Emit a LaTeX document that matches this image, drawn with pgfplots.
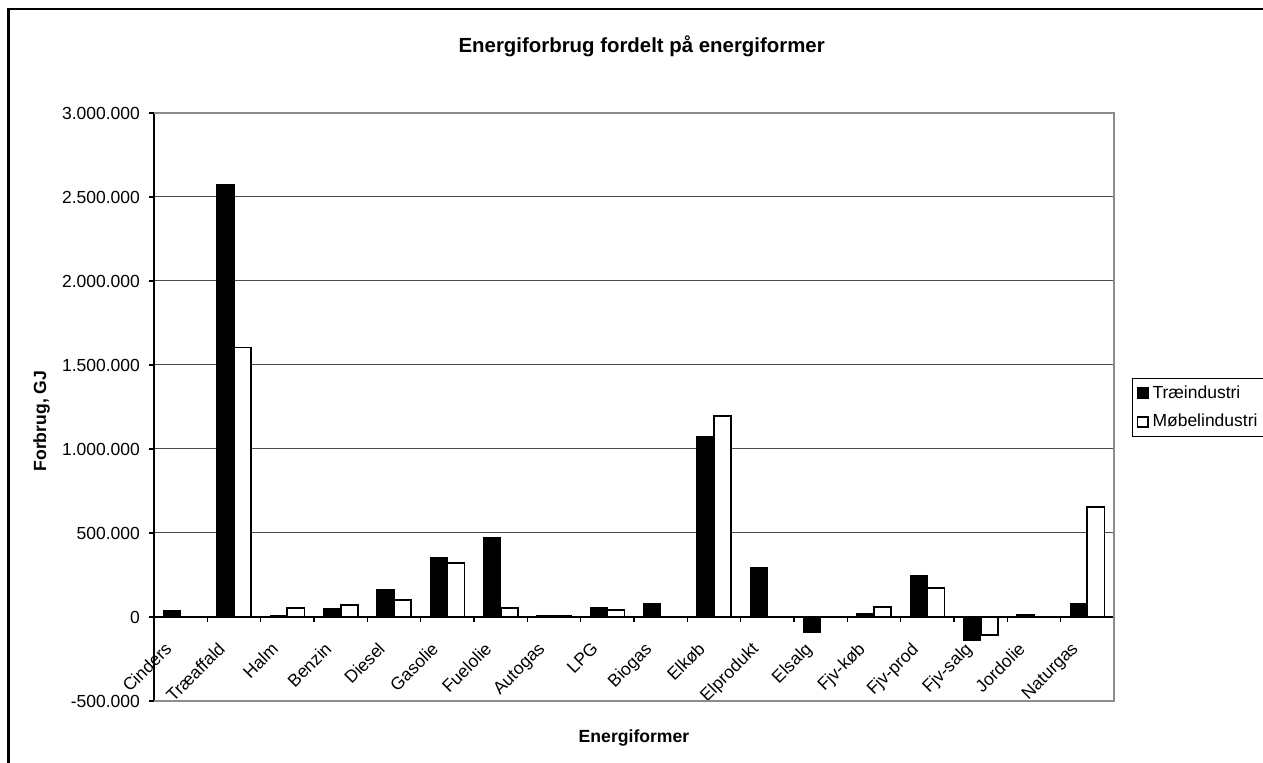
\documentclass[border=0pt]{standalone}
\usepackage{pgfplots}
\pgfplotsset{compat=1.18}
\usepackage{fontspec}
\setmainfont{Liberation Sans}

\newcommand{\tickfont}{\fontsize{8.75}{10.5}\selectfont}

\begin{document}
\begin{tikzpicture}
% page area and outer chart frame
\path[use as bounding box] (0pt,0pt) rectangle (631.5pt,381.5pt);
\draw[black, line width=1.3pt] (4.25pt,-10pt) -- (4.25pt,377pt) -- (645pt,377pt);

\begin{axis}[
  at={(77pt,31pt)}, anchor=south west,
  scale only axis, width=480pt, height=294pt,
  clip=false,
  axis x line*=middle, axis y line*=left,
  axis line style={black, line width=0.6pt},
  xmin=-0.5, xmax=17.5,
  ymin=-500000, ymax=3000000,
  scaled y ticks=false,
  ytick={-500000,0,500000,1000000,1500000,2000000,2500000,3000000},
  yticklabels={-500.000,0,500.000,1.000.000,1.500.000,2.000.000,2.500.000,3.000.000},
  yticklabel style={font=\tickfont, xshift=-1pt},
  xtick={0,...,17},
  xticklabels={Cinders,Træaffald,Halm,Benzin,Diesel,Gasolie,Fuelolie,Autogas,LPG,Biogas,Elkøb,Elprodukt,Elsalg,Fjv-køb,Fjv-prod,Fjv-salg,Jordolie,Naturgas},
  xticklabel style={font=\tickfont, xshift=-8.5pt, yshift=-8pt, rotate=45, anchor=north east, inner sep=1pt},
  x tick style={draw=none},
  minor xtick={-0.5,0.5,...,17.5},
  minor x tick style={draw=black, line width=0.6pt},
  y tick style={black, line width=0.6pt},
  tick align=outside,
  major tick length=2.5pt, minor tick length=2.5pt,
  ymajorgrids,
  grid style={black!70, line width=0.5pt},
  ybar=0pt, bar width=0.32,
  title={Energiforbrug fordelt på energiformer},
  every axis title/.style={font=\fontsize{10.2}{12}\selectfont\bfseries, at={(axis description cs:0.508,1.1037)}, anchor=base},
  xlabel={Energiformer},
  xlabel style={font=\fontsize{8.8}{10.5}\selectfont\bfseries, at={(axis description cs:0.5,-0.0714)}, anchor=base},
  ylabel={Forbrug, GJ},
  ylabel style={font=\fontsize{8.8}{10.5}\selectfont\bfseries, at={(axis description cs:-0.117,0.476)}, anchor=center},
  legend style={at={(axis description cs:1.01875,0.5493)}, anchor=north west,
    draw=black, line width=0.5pt, font=\tickfont, inner xsep=2pt, inner ysep=1.5pt,
    row sep=2.5pt, cells={anchor=west}},
  legend image code/.code={\draw[#1, line width=0.8pt] (0pt,-2.6pt) rectangle (5.2pt,2.6pt);},
]
% plot area frame (top, right, bottom)
\draw[black!45, line width=1pt] (rel axis cs:0,0) -- (rel axis cs:1,0) -- (rel axis cs:1,1) -- (rel axis cs:0,1);

\addplot[draw=black, fill=black, line width=0.6pt] coordinates {
  (0,38000) (1,2571000) (2,10000) (3,50000) (4,161000) (5,351000)
  (6,474000) (7,10000) (8,54000) (9,81000) (10,1076000) (11,296000)
  (12,-89000) (13,18000) (14,246000) (15,-139000) (16,12000) (17,81000)
};
\addplot[draw=black, fill=white, line width=0.9pt] coordinates {
  (1,1604000) (2,55000) (3,70000) (4,99000) (5,320000)
  (6,55000) (7,4000) (8,42000) (10,1196000)
  (13,58000) (14,171000) (15,-105000) (16,2000) (17,653000)
};
\legend{Træindustri,Møbelindustri}
\end{axis}
\end{tikzpicture}
\end{document}
